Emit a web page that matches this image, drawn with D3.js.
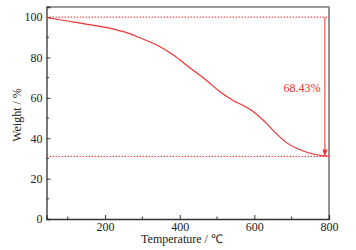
<!DOCTYPE html>
<html><head><meta charset="utf-8">
<script src="https://cdn.jsdelivr.net/npm/d3@7"></script>
<style>body{margin:0;background:#fff}svg{display:block}text{font-family:"Liberation Serif","Times New Roman",serif}</style>
</head><body><svg id="c" width="356" height="250"></svg>
<script>
const temps   = [43, 130, 220, 256, 290, 336, 383, 428, 472, 508, 544, 572, 600, 628, 655, 687, 722, 758, 794, 800];
const weights = [99.8, 97.1, 94.2, 92.4, 90.0, 86.4, 81.2, 74.8, 68.6, 63.0, 58.6, 56.0, 52.8, 48.2, 43.0, 37.7, 34.3, 32.2, 31.2, 31.1];
const xTicks = [200, 400, 600, 800];
const xMinor = [100, 300, 500, 700];
const yTicks = [0, 20, 40, 60, 80, 100];
const yMinor = [10, 30, 50, 70, 90];
const startW = 100, endW = 31.0, arrowT = 789;
const lossLabel = "68.43%";

const svg = d3.select("#c");
const x = d3.scaleLinear().domain([43, 800]).range([46.5, 329]);
const y = d3.scaleLinear().domain([0, 105]).range([219, 7]);
const red = "#f03030";

// frame (top/right)
svg.append("path").attr("d", `M${x.range()[0]},${y(105)}H${x(800)}V${y(0)}`)
  .attr("fill","none").attr("stroke","#7a7a7a").attr("stroke-width",1.6);

// axes
const gx = svg.append("g").attr("transform",`translate(0,${y(0)})`)
  .call(d3.axisBottom(x).tickValues(xTicks).tickSize(-4).tickPadding(3).tickFormat(d3.format("d")));
gx.append("g").selectAll("line").data(xMinor).join("line")
  .attr("x1",d=>x(d)).attr("x2",d=>x(d)).attr("y1",0).attr("y2",-2.5).attr("stroke","#333");
const gy = svg.append("g").attr("transform",`translate(${x.range()[0]},0)`)
  .call(d3.axisLeft(y).tickValues(yTicks).tickSize(-4).tickPadding(4).tickFormat(d3.format("d")));
gy.append("g").selectAll("line").data(yMinor).join("line")
  .attr("y1",d=>y(d)).attr("y2",d=>y(d)).attr("x1",0).attr("x2",2.5).attr("stroke","#333");
[gx, gy].forEach(g=>{
  g.attr("font-family",null);
  g.select(".domain").attr("stroke","#333").attr("stroke-width",1.3);
  g.selectAll(".tick line").attr("stroke","#333");
  g.selectAll("text").attr("font-size",12).attr("fill","#222");
});

// dotted reference lines
[startW, endW].forEach(w=>{
  svg.append("line").attr("x1",x.range()[0]).attr("x2",x(800)).attr("y1",y(w)).attr("y2",y(w))
    .attr("stroke",red).attr("stroke-width",1).attr("stroke-dasharray","1.5,1.5");
});

// curve
const line = d3.line().x((d,i)=>x(temps[i])).y(d=>y(d)).curve(d3.curveCatmullRom.alpha(0.5));
svg.append("path").attr("d", line(weights)).attr("fill","none").attr("stroke",red).attr("stroke-width",1.2);

// arrow
const ax = x(arrowT);
svg.append("line").attr("x1",ax).attr("x2",ax).attr("y1",y(startW)).attr("y2",y(endW)-5)
  .attr("stroke",red).attr("stroke-width",1);
svg.append("path").attr("d",`M${ax-2.5},${y(endW)-7}L${ax+2.5},${y(endW)-7}L${ax},${y(endW)}Z`).attr("fill",red);

svg.append("text").attr("x",302).attr("y",92).attr("text-anchor","middle").attr("font-size",12)
  .attr("fill",red).text(lossLabel);

// titles
svg.append("text").attr("x",182).attr("y",243).attr("text-anchor","middle").attr("font-size",12)
  .attr("fill","#222").text("Temperature / ℃");
svg.append("text").attr("transform","translate(21,115) rotate(-90)").attr("text-anchor","middle")
  .attr("font-size",12).attr("fill","#222").text("Weight / %");
</script></body></html>
